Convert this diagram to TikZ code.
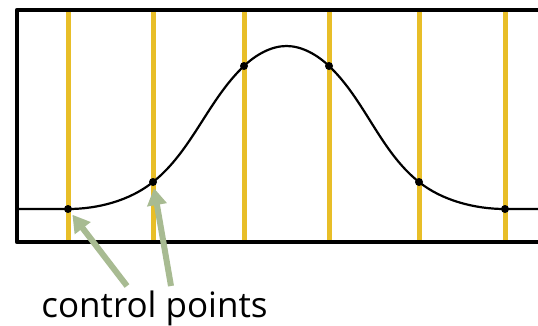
\documentclass[tikz,border=0pt]{standalone}
\usepackage{fontspec}
\setmainfont{Open Sans}
\usetikzlibrary{arrows.meta}
\definecolor{guideyellow}{RGB}{232,190,40}
\definecolor{pointgreen}{RGB}{168,187,146}

\begin{document}
\begin{tikzpicture}[x=1pt, y=-1pt,
    guide/.style = {guideyellow, line width=5pt},
    curve/.style = {black, line width=2.2pt},
    frame/.style = {black, line width=4.5pt, line join=round},
    ctrl/.style = {circle, fill=black, inner sep=0pt, minimum size=8pt},
    pointer/.style = {pointgreen, line width=6pt, -{Triangle[length=17pt, width=19pt]}}]
  \useasboundingbox (0,0) rectangle (538,325);

  \foreach \x/\y [count=\i] in {68/209, 153/182, 244/66, 329/66, 419/182, 505/209}
    \coordinate (c\i) at (\x,\y);
  \coordinate (top) at (286.5,46);
  \coordinate (L) at (19,209);
  \coordinate (R) at (540,209);
  \coordinate (gtop) at (0,12);
  \coordinate (gbot) at (0,240);

  \foreach \i in {1,...,6}
    \draw[guide] (c\i |- gtop) -- (c\i |- gbot);

  \draw[curve] (L) -- (c1)
    .. controls (98,209) and (130,200.5) .. (c2)
    .. controls (192,151) and (208,100) .. (c3)
    .. controls (255.5,55) and (271,46) .. (top)
    .. controls (302,46) and (317.5,55) .. (c4)
    .. controls (365,100) and (380,151) .. (c5)
    .. controls (442,200.5) and (475,209) .. (c6) -- (R);

  \draw[frame] (540,10) -- (17,10) -- (17,242) -- (540,242);

  \foreach \i in {1,...,6}
    \node[ctrl] (P\i) at (c\i) {};

  \node[font=\fontsize{35}{42}\selectfont, anchor=base] (label) at (154.5,317) {control points};

  \coordinate (t1) at (127,286);
  \coordinate (t2) at (171,286);
  \draw[pointer, shorten >=3pt] (t1) -- (P1);
  \draw[pointer, shorten >=2pt] (t2) -- (P2);
\end{tikzpicture}
\end{document}
